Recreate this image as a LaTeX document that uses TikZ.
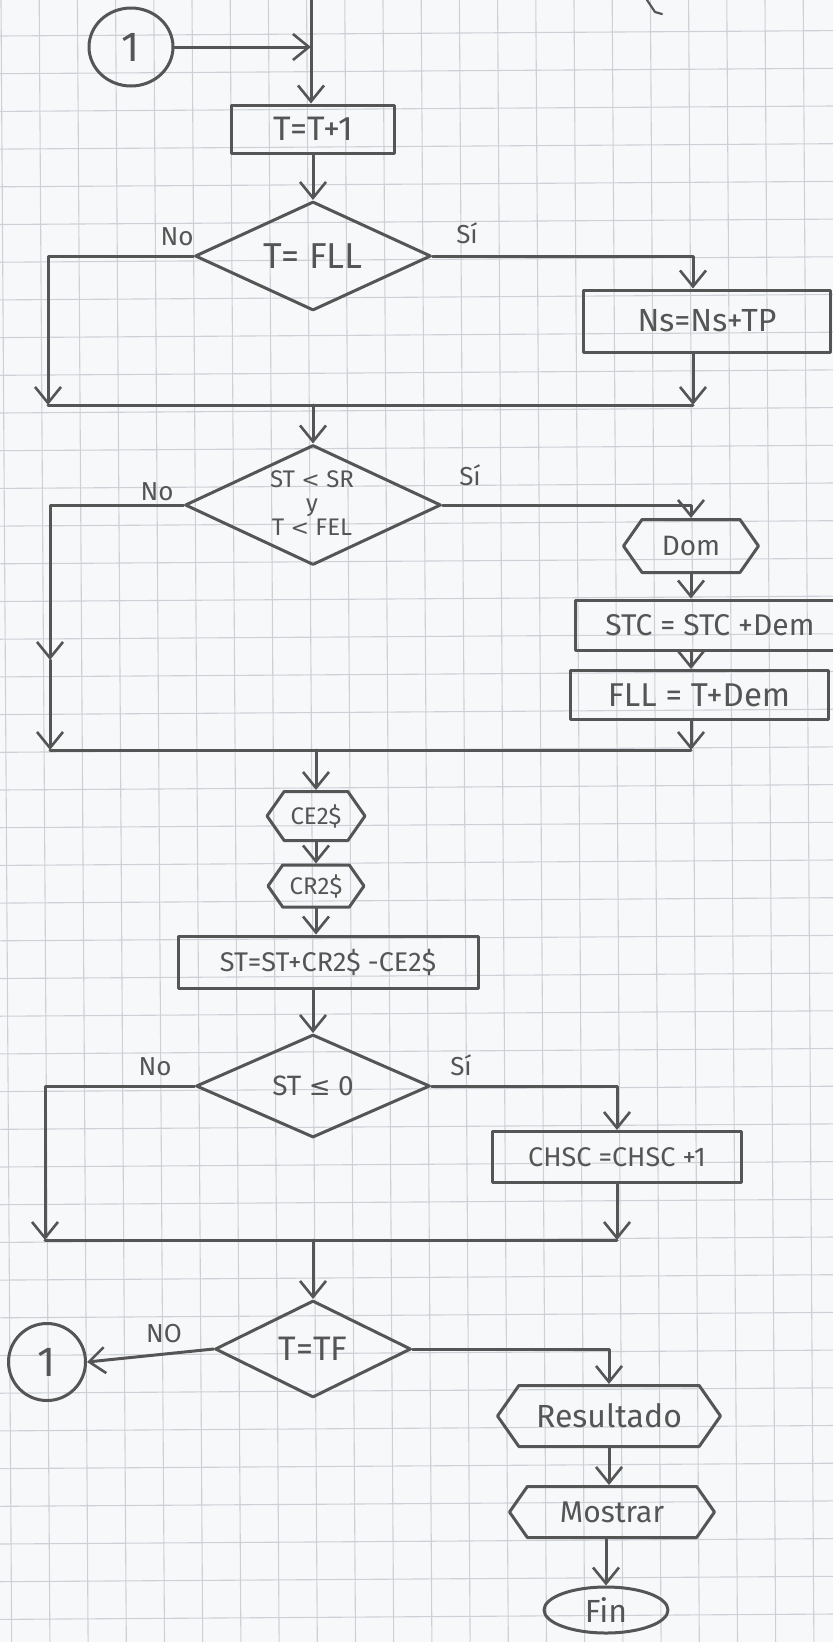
\documentclass[tikz,border=0pt]{standalone}
\usepackage{fontspec}
\setmainfont{Fira Sans}
\newfontfamily\djv{DejaVu Sans}
\usetikzlibrary{shapes.geometric,shapes.symbols,arrows.meta}
\definecolor{pencil}{HTML}{555555}
\definecolor{gridc}{HTML}{CDD1D7}
\definecolor{paper}{HTML}{F7F8FA}
\newcommand{\fs}[1]{\fontsize{#1}{#1}\selectfont}
\begin{document}
\begin{tikzpicture}[x=1pt,y=-1pt,
  pen/.style={draw=pencil,line width=3pt,line join=round,line cap=round},
  arr/.style={pen,-{Straight Barb[length=16pt,width=26pt,line width=2.6pt]}},
  box/.style={pen,rectangle,inner sep=0pt,text=pencil},
  dec/.style={pen,diamond,inner sep=0pt,text=pencil},
  hexa/.style={pen,signal,signal to=west and east,signal pointer angle=110,inner sep=0pt,text=pencil},
  conn/.style={pen,ellipse,inner sep=0pt,text=pencil},
  lab/.style={text=pencil,font=\fs{26},inner sep=0pt}
]
\useasboundingbox (0,0) rectangle (833,1642);
\clip (0,0) rectangle (833,1642);
\fill[paper] (0,0) rectangle (833,1642);
% squared paper
\foreach \i in {0,...,22} \draw[gridc,line width=1.1pt] ({1+38.2*\i},0) -- ({11.7+38.2*\i},1642);
\foreach \j in {0,...,44} \draw[gridc,line width=1.1pt] (0,{36+37.7*\j}) -- (833,{30.6+37.7*\j});

% mark from previous page
\coordinate (tm1) at (647,0);
\coordinate (tm2) at (655,12);
\coordinate (tm3) at (662,14);
\draw[pen,line width=2.2pt] (tm1) -- (tm2) -- (tm3);

% nodes
\coordinate (top) at (311,0);
\node[conn,minimum width=84pt,minimum height=78pt,font=\fs{42}] (c1) at (131,47) {1};
\node[box,minimum width=163pt,minimum height=48pt,font=\fs{34}] (t1) at (313,129) {T=T+1};
\node[dec,aspect=2.2,minimum width=236pt,minimum height=109pt,font=\fs{36}] (d1) at (313,256) {T= FLL};
\node[box,minimum width=247pt,minimum height=62pt,font=\fs{32}] (ns) at (707,321) {Ns=Ns+TP};
\coordinate (m1L) at (48,405);
\coordinate (m1R) at (693,405);

\node[dec,minimum width=256pt,minimum height=120pt] (d2) at (313,505) {};
\node[text=pencil,font=\fontsize{24}{24}\selectfont,align=center,inner sep=0pt] (d2t) at (312,503) {ST {\djv\fontsize{22}{24}\selectfont<} SR\\y\\T {\djv\fontsize{22}{24}\selectfont<} FEL};
\node[hexa,minimum width=135pt,minimum height=53pt,font=\fs{28}] (dom) at (691,546) {Dom};
\node[box,minimum width=270pt,minimum height=50pt,font=\fs{30}] (ste) at (710,625) {STC = STC +Dem};
\node[box,minimum width=258pt,minimum height=49pt,font=\fs{33}] (fll) at (699,695) {FLL = T+Dem};
\coordinate (m2a) at (50,660);
\coordinate (m2L) at (50,750);
\coordinate (m2R) at (691,750);

\node[hexa,minimum width=98pt,minimum height=49pt,font=\fs{24}] (ce) at (316,816) {CE2\$};
\node[hexa,minimum width=96pt,minimum height=42pt,font=\fs{24}] (cr) at (316,886) {CR2\$};
\node[box,minimum width=300pt,minimum height=52pt,font=\fs{27}] (st) at (328,962) {ST=ST+CR2\$ -CE2\$};
\node[dec,aspect=2.27,minimum width=234pt,minimum height=103pt,font=\fs{28}] (d3) at (313,1086) {ST {\djv\fs{26}≤} 0};
\node[box,minimum width=249pt,minimum height=51pt,font=\fs{27}] (chsc) at (617,1157) {CHSC =CHSC +1};
\coordinate (m3L) at (45,1240);
\coordinate (m3R) at (617,1240);

\node[dec,aspect=2,minimum width=196pt,minimum height=97pt,font=\fs{34}] (d4) at (313,1349) {T=TF};
\node[conn,minimum width=77pt,minimum height=77pt,font=\fs{42}] (c2) at (47,1362) {1};
\node[hexa,minimum width=223pt,minimum height=61pt,font=\fs{32}] (res) at (609,1416) {Resultado};
\node[hexa,minimum width=205pt,minimum height=51pt,font=\fs{30}] (mos) at (612,1512) {Mostrar};
\node[conn,minimum width=124pt,minimum height=46pt,font=\fs{32}] (fin) at (606,1610) {Fin};

% labels
\node[lab] (l1n) at (177,237) {No};
\node[lab] (l1s) at (467,233) {Sí};
\node[lab] (l2n) at (157,492) {No};
\node[lab] (l2s) at (470,475) {Sí};
\node[lab] (l3n) at (155,1067) {No};
\node[lab] (l3s) at (461,1065) {Sí};
\node[lab] (l4n) at (164,1334) {NO};

% connectors
\draw[arr] (top) -- (top |- t1.north);
\draw[arr] (c1.east) -- (c1.east -| top);
\draw[arr] (t1.south) -- (d1.north);
\draw[arr] (d1.west) -| (m1L);
\draw[arr] (d1.east) -| ([xshift=-14pt]ns.north);
\draw[arr] ([xshift=-14pt]ns.south) -- (m1R);
\draw[pen] (m1L) -- (m1R);
\draw[arr] (m1L -| d2.north) -- (d2.north);

\draw[arr] (d2.west) -| (m2a);
\draw[arr] (m2a) -- (m2L);
\draw[arr] (d2.east) -| (dom.north);
\draw[arr] (dom.south) -- (dom.south |- ste.north);
\draw[arr] (dom.south |- ste.south) -- (dom.south |- fll.north);
\draw[arr] (dom.south |- fll.south) -- (m2R);
\draw[pen] (m2L) -- (m2R);
\draw[arr] (m2L -| ce.north) -- (ce.north);
\draw[arr] (ce.south) -- (cr.north);
\draw[arr] (cr.south) -- (cr.south |- st.north);
\draw[arr] (st.south -| d3.north) -- (d3.north);

\draw[arr] (d3.west) -| (m3L);
\draw[arr] (d3.east) -| (chsc.north);
\draw[arr] (chsc.south) -- (m3R);
\draw[pen] (m3L) -- (m3R);
\draw[arr] (m3L -| d4.north) -- (d4.north);

\draw[arr] (d4.west) -- (c2.east);
\draw[arr] (d4.east) -| (res.north);
\draw[arr] (res.south) -- (res.south |- mos.north);
\draw[arr] (mos.south -| fin.north) -- (fin.north);
\end{tikzpicture}
\end{document}
